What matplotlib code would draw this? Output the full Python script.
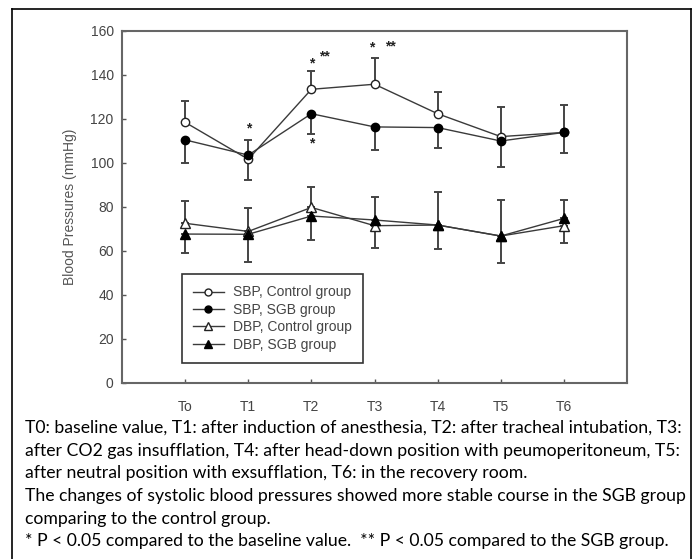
import numpy as np
import matplotlib.pyplot as plt
from matplotlib.lines import Line2D

times = ["To", "T1", "T2", "T3", "T4", "T5", "T6"]

sbp_ctrl = [118.5, 101.7, 133.5, 135.8, 122.4, 112.0, 113.9]
sbp_ctrl_err = [9.7, 8.8, 8.5, 12.0, 10.0, 13.3, 12.5]
sbp_sgb = [110.5, 103.6, 122.4, 116.4, 116.1, 110.0, 113.9]
sbp_sgb_err = [10.4, 11.3, 9.4, 10.5, 9.1, 11.7, 9.5]

dbp_ctrl = [72.6, 68.9, 79.8, 71.5, 71.8, 66.8, 71.5]
dbp_ctrl_err = [10.1, 10.5, 9.4, 13.2, 14.9, 16.2, 11.5]
dbp_sgb = [67.7, 67.6, 75.9, 74.1, 71.8, 66.8, 74.8]
dbp_sgb_err = [8.7, 12.8, 10.9, 12.6, 11.0, 12.1, 11.3]

# significance marks
marks_x = [1, 2, 2.2, 2, 2.95, 3.25]
marks_y = [115.5, 145.4, 148.4, 108.7, 152.3, 153.0]
marks_txt = ["*", "*", "**", "*", "*", "**"]

caption = ("T0: baseline value, T1: after induction of anesthesia, T2: after tracheal intubation, T3:\n"
           "after CO2 gas insufflation, T4: after head-down position with peumoperitoneum, T5:\n"
           "after neutral position with exsufflation, T6: in the recovery room.\n"
           "The changes of systolic blood pressures showed more stable course in the SGB group\n"
           "comparing to the control group.\n"
           "* P < 0.05 compared to the baseline value.  ** P < 0.05 compared to the SGB group.")

plt.rcParams['font.family'] = ['Liberation Sans', 'DejaVu Sans']

fig = plt.figure(figsize=(6.97, 5.59), dpi=100)
W, H = 697, 559

# outer frame (no bottom edge)
fig.add_artist(Line2D([12 / W, 12 / W], [0, 1 - 9 / H], color='black', lw=1.2))
fig.add_artist(Line2D([12 / W, 691 / W], [1 - 9 / H, 1 - 9 / H], color='black', lw=1.2))
fig.add_artist(Line2D([691 / W, 691 / W], [0, 1 - 9 / H], color='black', lw=1.2))

ax = fig.add_axes([122 / W, 176 / H, 505 / W, 352 / H])
x = np.arange(len(times))
lc = '#3a3a3a'

ax.plot(x, sbp_ctrl, color=lc, lw=1, zorder=3)
ax.plot(x, sbp_sgb, color=lc, lw=1, zorder=3)
ax.plot(x, dbp_ctrl, color=lc, lw=1, zorder=3)
ax.plot(x, dbp_sgb, color=lc, lw=1, zorder=3)

ekw = dict(fmt='none', ecolor='#444444', elinewidth=1.4, capsize=3, capthick=1.4, zorder=2)
ax.errorbar(x, sbp_ctrl, yerr=[np.zeros(7), sbp_ctrl_err], **ekw)
ax.errorbar(x, sbp_sgb, yerr=[sbp_sgb_err, np.zeros(7)], **ekw)
ax.errorbar(x, dbp_ctrl, yerr=[np.zeros(7), dbp_ctrl_err], **ekw)
ax.errorbar(x, dbp_sgb, yerr=[dbp_sgb_err, np.zeros(7)], **ekw)

ax.plot(x, sbp_ctrl, 'o', ms=6, mfc='white', mec='#222222', mew=1, zorder=4)
ax.plot(x, sbp_sgb, 'o', ms=6, mfc='black', mec='black', zorder=5)
ax.plot(x, dbp_ctrl, '^', ms=6.5, mfc='white', mec='#222222', mew=1, zorder=4)
ax.plot(x, dbp_sgb, '^', ms=6.5, mfc='black', mec='black', zorder=5)

for mx, my, mt in zip(marks_x, marks_y, marks_txt):
    ax.text(mx, my, mt, ha='center', va='center', fontsize=10, fontweight='bold',
            color='#222222')

ax.set_xlim(-1, 7)
ax.set_ylim(0, 160)
ax.set_xticks(x)
ax.set_xticklabels(times)
ax.set_yticks(np.arange(0, 161, 20))
ax.tick_params(direction='in', length=3, width=1, color='#555555', labelsize=10,
               labelcolor='#444444')
ax.tick_params(axis='x', pad=12)
ax.tick_params(axis='y', pad=6)
for s in ax.spines.values():
    s.set_color('#666666')
    s.set_linewidth(1.5)
ax.set_ylabel("Blood Pressures (mmHg)", fontsize=10, color='#555555', labelpad=10)

handles = [
    Line2D([], [], color=lc, lw=1, marker='o', ms=5, mfc='white', mec='#222222'),
    Line2D([], [], color=lc, lw=1, marker='o', ms=5, mfc='black', mec='black'),
    Line2D([], [], color=lc, lw=1, marker='^', ms=5.5, mfc='white', mec='#222222'),
    Line2D([], [], color=lc, lw=1, marker='^', ms=5.5, mfc='black', mec='black'),
]
labels = ["SBP, Control group", "SBP, SGB group", "DBP, Control group", "DBP, SGB group"]
leg = ax.legend(handles, labels, loc='lower left', bbox_to_anchor=(0.119, 0.057),
                borderaxespad=0, fontsize=10, handlelength=2.2, labelspacing=0.25,
                fancybox=False, edgecolor='#333333', framealpha=1, borderpad=0.8,
                handletextpad=0.7, labelcolor='#444444')
leg.get_frame().set_linewidth(1.2)

fig.text(25 / W, 1 - 420 / H, caption, ha='left', va='top', fontsize=12.7,
         family=['Lato', 'DejaVu Sans'], color='black', linespacing=1.51)

fig.savefig("out.png", dpi=100)
